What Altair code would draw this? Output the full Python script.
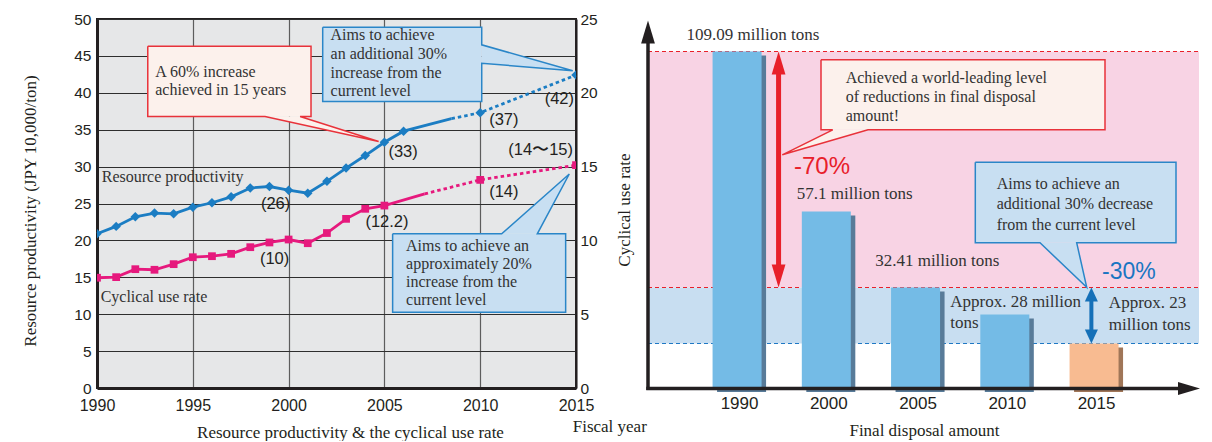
import json
import altair as alt
import pandas as pd

SANS = "Liberation Sans"
SERIF = "Liberation Serif"
INK = "#231f20"
TXT = "#333333"
BLUE = "#1b7dc3"
PINK = "#e6197d"
RED = "#e8202a"
BLUE_TXT = "#1a76c2"
CB_FILL, CB_EDGE = "#c8dff2", "#2a86c8"
CR_FILL, CR_EDGE = "#fcf1ec", "#e8323a"

# ---------------- data: resource productivity (JPY 10,000/ton) ----------------
rp_years = list(range(1990, 2007))
rp_values = [20.9, 21.9, 23.2, 23.7, 23.6, 24.5, 25.1, 25.9, 27.1, 27.3, 26.8,
             26.4, 28.0, 29.8, 31.5, 33.3, 34.8]
rp_bridge = [2008.5, 36.5]          # where the drawn solid line turns dotted
rp_goal_years = [2010, 2015]
rp_goal_values = [37.3, 42.4]

# ---------------- data: cyclical use rate (%) ----------------
cu_years = list(range(1990, 2006))
cu_values = [7.47, 7.51, 8.05, 8.01, 8.39, 8.86, 8.93, 9.09, 9.54, 9.86, 10.06,
             9.81, 10.5, 11.46, 12.14, 12.36]
cu_bridge = [2007.1, 13.15]
cu_goal_years = [2010, 2015]
cu_goal_values = [14.1, 15.1]

x_ticks = [1990, 1995, 2000, 2005, 2010, 2015]
left_ticks = [0, 5, 10, 15, 20, 25, 30, 35, 40, 45, 50]
right_ticks = [0, 5, 10, 15, 20, 25]

rp_point_labels = ["(26)", "(33)", "(37)", "(42)"]
rp_point_label_years = [2000, 2005, 2010, 2015]
cu_point_labels = ["(10)", "(12.2)", "(14)", "(14〜15)"]
cu_point_label_years = [2000, 2005, 2010, 2015]

# ---------------- data: final disposal amount (million tons) ----------------
fd_years = ["1990", "2000", "2005", "2010", "2015"]
fd_values = [109.09, 57.1, 32.41, 28.0, 23.0]
fd_kind = ["actual", "actual", "actual", "actual", "target"]
fd_labels = ["109.09 million tons", "57.1 million tons", "32.41 million tons",
             "Approx. 28 million\ntons", "Approx. 23\nmillion tons"]


def df(**cols):
    return pd.DataFrame(cols)


W_L, H, W_R = 479, 369, 552
TF = 17  # axis title font size

# ---------------- left chart encodings ----------------
XL = alt.X("yr:Q", scale=alt.Scale(domain=[1990, 2015], nice=False, zero=False),
           axis=alt.Axis(values=x_ticks, format="d", labelFont=SANS, labelFontSize=16,
                         labelColor=INK, labelPadding=9, labelFlush=False, labelOverlap=False,
                         ticks=False, domainColor=INK, domainWidth=3, grid=True,
                         gridColor="#5d5d5d", gridWidth=1.2,
                         title="Resource productivity & the cyclical use rate",
                         titleFont=SERIF, titleFontSize=TF, titleFontWeight="normal",
                         titleColor=INK, titlePadding=11, titleX=253))
X2L = alt.X2("yr2:Q")
YL = alt.Y("v:Q", scale=alt.Scale(domain=[0, 50], nice=False),
           axis=alt.Axis(values=left_ticks, labelFont=SANS, labelFontSize=15.5, labelColor=INK,
                         labelPadding=6, ticks=False, domainColor=INK, domainWidth=3, grid=True,
                         gridColor="#2e2e2e", gridWidth=1,
                         title="Resource productivity (JPY 10,000/ton)", titleFont=SERIF,
                         titleFontSize=TF, titleFontWeight="normal", titleColor=INK,
                         titlePadding=34, titleY=191.5))
Y2L = alt.Y2("v2:Q")
YR = alt.Y("v:Q", scale=alt.Scale(domain=[0, 25], nice=False),
           axis=alt.Axis(orient="right", values=right_ticks, labelFont=SANS, labelFontSize=15.5,
                         labelColor=INK, labelPadding=4, ticks=False, domainColor=INK,
                         domainWidth=2, grid=False, title="Cyclical use rate", titleAngle=270,
                         titleFont=SERIF, titleFontSize=TF, titleFontWeight="normal",
                         titleColor=INK, titlePadding=36, titleY=190.5))

# pixel-space channels for decorations of the right chart
XP = alt.X("yr:Q", scale=None)
X2P = alt.X2("yr2:Q")
YP = alt.Y("v:Q", scale=None)
Y2P = alt.Y2("v2:Q")


def callout(box, b1, b2, tip, edge, fill, stroke, X, X2, Y, Y2):
    x0, x1, ytop, ybot = box
    TL, TR, BR, BL = (x0, ytop), (x1, ytop), (x1, ybot), (x0, ybot)
    if edge == "bottom":
        pts = [TL, TR, BR, b2, tip, b1, BL, TL]
    elif edge == "top":
        pts = [TL, b1, tip, b2, TR, BR, BL, TL]
    else:  # right
        pts = [TL, TR, b1, tip, b2, BR, BL, TL]
    outline = df(yr=[p[0] for p in pts], v=[p[1] for p in pts], i=list(range(len(pts))))
    tri = sorted([b1, b2, tip], key=lambda p: p[0])
    p0, p1, p2 = [list(p) for p in tri]
    if p1[0] == p0[0]:
        p0[0] -= 1e-3
    yl = p0[1] + (p2[1] - p0[1]) * (p1[0] - p0[0]) / (p2[0] - p0[0])
    area = df(yr=[p0[0], p1[0], p2[0]], v=[p0[1], p1[1], p2[1]], v2=[p0[1], yl, p2[1]])
    rect = df(yr=[x0], yr2=[x1], v=[ytop], v2=[ybot])
    return [
        alt.Chart(rect).mark_rect(color=fill, opacity=1).encode(x=X, x2=X2, y=Y, y2=Y2),
        alt.Chart(area).mark_area(color=fill, opacity=1).encode(x=X, y=Y, y2=Y2),
        alt.Chart(outline).mark_line(color=stroke, strokeWidth=1.5, strokeJoin="miter")
        .encode(x=X, y=Y, order="i:Q"),
    ]


def note(text, x, y, X, Y, size=16, lh=18.5, color=TXT, font=SERIF, align="left"):
    return alt.Chart(df(yr=[x], v=[y], t=[text])).mark_text(
        font=font, fontSize=size, color=color, align=align, baseline="alphabetic",
        lineBreak="\n", lineHeight=lh).encode(x=X, y=Y, text="t:N")


# ---------------- cyclical use rate (right scale) ----------------
cu_all = dict(zip(cu_years + cu_goal_years, cu_values + cu_goal_values))
pink_layers = [
    alt.Chart(df(yr=cu_years + [cu_bridge[0]], v=cu_values + [cu_bridge[1]]))
    .mark_line(color=PINK, strokeWidth=2.8).encode(x=XL, y=YR),
    alt.Chart(df(yr=[cu_bridge[0]] + cu_goal_years, v=[cu_bridge[1]] + cu_goal_values))
    .mark_line(color=PINK, strokeWidth=2.8, strokeDash=[3.5, 3]).encode(x=XL, y=YR),
    alt.Chart(df(yr=cu_years + cu_goal_years, v=cu_values + cu_goal_values))
    .mark_square(color=PINK, size=60, opacity=1, clip=True).encode(x=XL, y=YR),
]
cu_label_style = [(-14, 24, "center"), (-19, 21, "left"), (9, 17, "left"), (-3, -10, "right")]
for t, yr, (dx, dy, al) in zip(cu_point_labels, cu_point_label_years, cu_label_style):
    pink_layers.append(
        alt.Chart(df(yr=[yr], v=[cu_all[yr]], t=[t])).mark_text(
            font=SANS, fontSize=16.5, color=INK, align=al, baseline="alphabetic", dx=dx, dy=dy)
        .encode(x=XL, y=YR, text="t:N"))
pink = alt.layer(*pink_layers)

# ---------------- resource productivity (left scale) + notes ----------------
rp_all = dict(zip(rp_years + rp_goal_years, rp_values + rp_goal_values))
blue_layers = [
    alt.Chart(df(yr=rp_years + [rp_bridge[0]], v=rp_values + [rp_bridge[1]]))
    .mark_line(color=BLUE, strokeWidth=2.8).encode(x=XL, y=YL),
    alt.Chart(df(yr=[rp_bridge[0]] + rp_goal_years, v=[rp_bridge[1]] + rp_goal_values))
    .mark_line(color=BLUE, strokeWidth=2.8, strokeDash=[3.5, 3]).encode(x=XL, y=YL),
    alt.Chart(df(yr=rp_years + rp_goal_years, v=rp_values + rp_goal_values))
    .mark_point(shape="diamond", filled=True, size=90, color=BLUE, opacity=1, clip=True)
    .encode(x=XL, y=YL),
]
rp_label_style = [(-13, 19, "center"), (4, 15, "left"), (9, 12, "left"), (-2, 29, "right")]
for t, yr, (dx, dy, al) in zip(rp_point_labels, rp_point_label_years, rp_label_style):
    blue_layers.append(
        alt.Chart(df(yr=[yr], v=[rp_all[yr]], t=[t])).mark_text(
            font=SANS, fontSize=16.5, color=INK, align=al, baseline="alphabetic", dx=dx, dy=dy)
        .encode(x=XL, y=YL, text="t:N"))

blue_layers += [
    note("Resource productivity", 1990.25, 27.9, XL, YL),
    note("Cyclical use rate", 1990.19, 11.72, XL, YL),
]
blue_layers += callout((1992.65, 2001.17, 46.31, 36.79), (1998.77, 36.79), (2000.6, 36.79),
                       (2004.7, 33.4), "bottom", CR_FILL, CR_EDGE, XL, X2L, YL, Y2L)
blue_layers.append(note("A 60% increase\nachieved in 15 years", 1993.04, 42.2, XL, YL, lh=18))
blue_layers += callout((2001.78, 2010.08, 48.89, 38.82), (2010.08, 46.5), (2010.08, 44.0),
                       (2014.83, 42.98), "right", CB_FILL, CB_EDGE, XL, X2L, YL, Y2L)
blue_layers.append(note("Aims to achieve\nan additional 30%\nincrease from the\ncurrent level",
                        2002.19, 47.09, XL, YL, lh=18.6))
blue_layers += callout((2005.43, 2014.46, 20.89, 10.27), (2011.12, 20.89), (2012.98, 20.89),
                       (2014.65, 29.0), "top", CB_FILL, CB_EDGE, XL, X2L, YL, Y2L)
blue_layers.append(note("Aims to achieve an\napproximately 20%\nincrease from the\ncurrent level",
                        2006.13, 18.63, XL, YL, lh=18.3))
blue_layers.append(
    alt.Chart(df(t=["Fiscal year"])).mark_text(font=SERIF, fontSize=TF, color=INK, align="left",
                                                 baseline="alphabetic")
    .encode(x=alt.value(475.7), y=alt.value(413), text="t:N"))
blue = alt.layer(*blue_layers)

left = alt.layer(pink, blue).resolve_scale(y="independent").properties(
    width=W_L, height=H, view=alt.ViewBackground(fill="#e6e7e8", stroke=INK, strokeWidth=2))

# ---------------- right chart ----------------
fd = df(idx=list(range(len(fd_years))), value=fd_values, kind=fd_kind, label=fd_labels)
label_expr = json.dumps(fd_years) + "[datum.value]"
XR = alt.X("idx:Q", scale=alt.Scale(domain=[-0.942, 5.131], nice=False, zero=False),
           axis=alt.Axis(values=list(range(len(fd_years))), labelExpr=label_expr, labelFont=SANS,
                         labelFontSize=17, labelColor=INK, labelPadding=7, labelOffset=2,
                         labelFlush=False, domain=False, ticks=False, grid=False,
                         title="Final disposal amount", titleFont=SERIF, titleFontSize=TF,
                         titleFontWeight="normal", titleColor=INK, titlePadding=11))
YB = alt.Y("value:Q", scale=alt.Scale(domain=[0, 23, 28, 32.41, 109.09],
                                      range=[369, 324.5, 295.5, 268.5, 32.5], nice=False),
           axis=None)
YB2 = alt.Y2("value2:Q")

UP = "M0,0L0.6,2L-0.6,2Z"
DOWN = "M0,0L0.6,-2L-0.6,-2Z"
UP_S = "M0,0L0.93,2L-0.93,2Z"
DOWN_S = "M0,0L0.93,-2L-0.93,-2Z"
RIGHT = "M0,0L-2,-0.6L-2,0.6Z"

one = df(a=[0])
right_layers = [
    alt.Chart(df(value=[fd_values[0]], value2=[fd_values[2]])).mark_rect(color="#f8d3e4", opacity=1)
    .encode(x=alt.value(0), x2=alt.value(W_R - 1), y=YB, y2=YB2),
    alt.Chart(df(value=[fd_values[2]], value2=[fd_values[4]])).mark_rect(color="#c8def1", opacity=1)
    .encode(x=alt.value(0), x2=alt.value(W_R - 1), y=YB, y2=YB2),
    alt.Chart(df(value=[fd_values[0], fd_values[2]])).mark_rule(color=RED, strokeWidth=1.2,
                                                               strokeDash=[4, 3])
    .encode(x=alt.value(0), x2=alt.value(W_R - 1), y=YB),
    alt.Chart(df(value=[fd_values[4]])).mark_rule(color="#1f78c4", strokeWidth=1.2,
                                                   strokeDash=[4, 3])
    .encode(x=alt.value(0), x2=alt.value(W_R - 1), y=YB),
    alt.Chart(fd).mark_bar(width=49, xOffset=4.5, yOffset=4).encode(
        x=XR, y=YB, color=alt.Color("kind:N", scale=alt.Scale(domain=["actual", "target"],
                                                               range=["#587b99", "#a07658"]),
                                    legend=None)),
    alt.Chart(fd).mark_bar(width=49).encode(
        x=XR, y=YB, color=alt.Color("kind:N", scale=alt.Scale(domain=["actual", "target"],
                                                              range=["#74bbe6", "#f8bb91"]),
                                    legend=None)),
]
fd_label_style = [(15.9, -12, "center", 21), (-29.5, -13, "left", 21), (-40.4, -22, "left", 21),
                  (-54.6, -8, "left", 21), (14.8, -36, "left", 22)]
for i, (dx, dy, al, lh) in enumerate(fd_label_style):
    right_layers.append(
        alt.Chart(fd.iloc[[i]]).mark_text(font=SERIF, fontSize=17, color=TXT, align=al,
                                          baseline="alphabetic", dx=dx, dy=dy, lineBreak="\n",
                                          lineHeight=lh)
        .encode(x=XR, y=YB, text="label:N"))

# reduction arrows
right_layers += [
    alt.Chart(df(idx=[0.465], value=[fd_values[0]], value2=[fd_values[2]]))
    .mark_rule(color=RED, strokeWidth=5, yOffset=12, y2Offset=-12).encode(x=XR, y=YB, y2=YB2),
    alt.Chart(df(idx=[0.465], value=[fd_values[0]])).mark_point(
        shape=UP, size=529, filled=True, color=RED, opacity=1, strokeWidth=0).encode(x=XR, y=YB),
    alt.Chart(df(idx=[0.465], value=[fd_values[2]])).mark_point(
        shape=DOWN, size=529, filled=True, color=RED, opacity=1, strokeWidth=0).encode(x=XR, y=YB),
    alt.Chart(df(idx=[3.97], value=[fd_values[2]], value2=[fd_values[4]]))
    .mark_rule(color="#1570b8", strokeWidth=4, yOffset=8, y2Offset=-8).encode(x=XR, y=YB, y2=YB2),
    alt.Chart(df(idx=[3.97], value=[fd_values[2]])).mark_point(
        shape=UP_S, size=196, filled=True, color="#1570b8", opacity=1, strokeWidth=0)
    .encode(x=XR, y=YB),
    alt.Chart(df(idx=[3.97], value=[fd_values[4]])).mark_point(
        shape=DOWN_S, size=196, filled=True, color="#1570b8", opacity=1, strokeWidth=0)
    .encode(x=XR, y=YB),
]

# callouts and percentage notes (pixel space)
right_layers += callout((173, 457, 40.8, 110.8), (184.7, 110.8), (220, 110.8), (134.3, 135.8),
                        "bottom", CR_FILL, CR_EDGE, XP, X2P, YP, Y2P)
right_layers.append(note("Achieved a world-leading level\nof reductions in final disposal\namount!",
                         197.7, 64.2, XP, YP, lh=19))
right_layers += callout((327.3, 528, 143.2, 223.8), (392, 223.8), (428.7, 223.8), (438.7, 268.2),
                        "bottom", CB_FILL, CB_EDGE, XP, X2P, YP, Y2P)
right_layers.append(note("Aims to achieve an\nadditional 30% decrease\nfrom the current level",
                         348.7, 169.5, XP, YP, lh=20.5))
right_layers.append(note("-70%", 146, 154.5, XP, YP, size=24, color=RED, font=SANS))
right_layers.append(note("-30%", 454, 259.5, XP, YP, size=23, color=BLUE_TXT, font=SANS))

# axis lines with arrowheads
right_layers += [
    alt.Chart(one).mark_rule(color=INK, strokeWidth=3.5)
    .encode(x=alt.value(0), y=alt.value(14), y2=alt.value(371)),
    alt.Chart(one).mark_point(shape=UP, size=529, filled=True, color=INK, opacity=1, strokeWidth=0)
    .encode(x=alt.value(0), y=alt.value(1.5)),
    alt.Chart(one).mark_rule(color=INK, strokeWidth=3.5)
    .encode(x=alt.value(-1.75), x2=alt.value(534), y=alt.value(369.5)),
    alt.Chart(one).mark_point(shape=RIGHT, size=484, filled=True, color=INK, opacity=1,
                              strokeWidth=0)
    .encode(x=alt.value(W_R), y=alt.value(369.5)),
]

right = alt.layer(*right_layers).resolve_scale(color="independent").properties(
    width=W_R, height=H)

chart = alt.hconcat(left, right, spacing=72, bounds="flush").properties(
    padding={"left": 12, "top": 3, "right": 0, "bottom": 0}
).configure_view(stroke="transparent")

chart.save("out.html", embed_options={"renderer": "svg", "actions": False})
